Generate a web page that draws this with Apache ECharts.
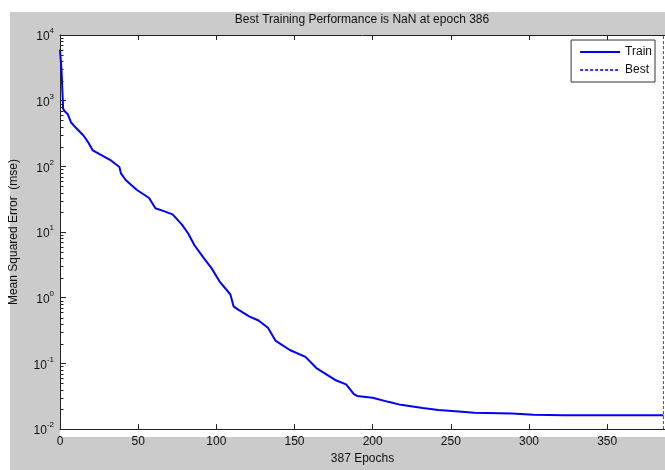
<!DOCTYPE html>
<html>
<head>
<meta charset="utf-8">
<script src="https://cdn.jsdelivr.net/npm/echarts@6/dist/echarts.min.js"></script>
<style>
html,body{margin:0;padding:0;background:#fff;}
#chart{width:665px;height:470px;}
</style>
</head>
<body>
<div id="chart"></div>
<script>
// ---- data ----
var epochs = [0, 1, 2, 3, 5, 7, 10, 15, 18, 21, 25, 32, 38, 39, 42, 49, 57, 61, 66, 72, 78, 82, 86, 92, 97, 102, 109, 111, 114, 121, 127, 133, 138, 147, 157, 164, 176, 183, 188, 190, 200, 210, 218, 232, 242, 253, 265, 289, 303, 322, 386];
var trainMse = [6000, 2800, 750, 690, 620, 470, 390, 295, 233, 175, 155, 126, 98, 78, 62, 44, 33, 23, 21, 18.6, 13, 9.5, 6.3, 4.0, 2.8, 1.78, 1.12, 0.74, 0.66, 0.52, 0.45, 0.35, 0.22, 0.16, 0.126, 0.085, 0.056, 0.048, 0.034, 0.032, 0.030, 0.026, 0.0234, 0.0209, 0.0195, 0.0187, 0.0177, 0.0173, 0.0165, 0.0162, 0.0162];
var bestEpoch = 386;
var yLimits = [0.01, 10000];
var titleText = 'Best Training Performance is NaN at epoch 386';
var xName = '387 Epochs';
var yName = 'Mean Squared Error  (mse)';
var seriesNames = ['Train', 'Best'];

// minor log ticks (axis decoration)
var minorTicks = [];
for (var k = -2; k < 4; k++) {
  for (var m = 2; m <= 9; m++) minorTicks.push([0, m * Math.pow(10, k)]);
}

var trainData = epochs.map(function (e, i) { return [e, trainMse[i]]; });
var bestData = [[bestEpoch, yLimits[0]], [bestEpoch, yLimits[1]]];

var FONT = '"Liberation Sans", Arial, sans-serif';
var chart = echarts.init(document.getElementById('chart'), null, {renderer: 'canvas'});

var GL = 60, GT = 35, GB = 33;

var option = {
  animation: false,
  backgroundColor: '#ffffff',
  textStyle: {fontFamily: FONT},
  graphic: [
    {type: 'rect', z: -100, silent: true, shape: {x: 10, y: 12, width: 660, height: 460}, style: {fill: '#cbcbcb'}},
    {type: 'rect', z: -90, silent: true, shape: {x: GL, y: GT, width: 665 - GL + 5, height: 470 - GT - GB}, style: {fill: '#ffffff'}},
    {type: 'text', z: 10, silent: true, style: {text: titleText, x: 362, y: 20, align: 'center', verticalAlign: 'middle', font: '12px ' + FONT, fill: '#111'}}
  ],
  grid: {left: GL, right: 0, top: GT, bottom: GB, show: false},
  legend: {
    data: seriesNames, orient: 'vertical', right: 10, top: 40,
    backgroundColor: '#ffffff', borderColor: '#333', borderWidth: 1, borderRadius: 0,
    padding: [6, 3, 6, 8], itemWidth: 40, itemHeight: 12, itemGap: 6,
    itemStyle: {opacity: 0},
    textStyle: {fontSize: 12, color: '#111', fontFamily: FONT}
  },
  xAxis: [{
    type: 'value', min: 0, max: 387, interval: 50,
    name: xName, nameLocation: 'middle', nameGap: 21,
    nameTextStyle: {fontSize: 12, color: '#111', fontFamily: FONT},
    axisLine: {show: true, onZero: false, lineStyle: {color: '#222', width: 1}},
    axisTick: {show: true, inside: true, length: 5, lineStyle: {color: '#222', width: 1}},
    axisLabel: {show: true, margin: 7, fontSize: 12, color: '#111', showMaxLabel: false, fontFamily: FONT},
    splitLine: {show: false}
  }, {
    type: 'value', min: 0, max: 387, interval: 50, position: 'top',
    axisLine: {show: true, onZero: false, lineStyle: {color: '#222', width: 1}},
    axisTick: {show: true, inside: true, length: 5, lineStyle: {color: '#222', width: 1}},
    axisLabel: {show: false},
    splitLine: {show: false}
  }],
  yAxis: {
    type: 'log', logBase: 10, min: yLimits[0], max: yLimits[1], interval: 1,
    name: yName, nameLocation: 'middle', nameGap: 40,
    nameTextStyle: {fontSize: 12, color: '#111', fontFamily: FONT},
    axisLine: {show: true, onZero: false, lineStyle: {color: '#222', width: 1}},
    axisTick: {show: true, inside: true, length: 6, lineStyle: {color: '#222', width: 1}},
    axisLabel: {
      margin: 6,
      formatter: function (v) { return '{b|10}{s|' + Math.round(Math.log10(v)) + '}'; },
      rich: {
        b: {fontSize: 12, color: '#111', fontFamily: FONT, verticalAlign: 'bottom'},
        s: {fontSize: 8, color: '#111', fontFamily: FONT, verticalAlign: 'bottom', padding: [0, 0, 8, 0]}
      }
    },
    splitLine: {show: false}
  },
  series: [
    {
      name: 'Train', type: 'line', data: trainData, symbol: 'none', showSymbol: false,
      lineStyle: {color: '#0000ff', width: 2}, itemStyle: {color: '#0000ff'}, z: 5
    },
    {
      name: 'Best', type: 'line', data: bestData, symbol: 'none', showSymbol: false,
      lineStyle: {color: '#3333ff', width: 1, type: [3, 2]}, itemStyle: {color: '#3333ff'}, z: 4
    },
    {
      name: 'minorTicks', type: 'custom', data: minorTicks, silent: true, z: 6, clip: false,
      renderItem: function (params, api) {
        var p = api.coord([api.value(0), api.value(1)]);
        var y = Math.round(p[1]) + 0.5;
        return {type: 'line', shape: {x1: p[0], y1: y, x2: p[0] + 3.5, y2: y}, style: {stroke: '#222', lineWidth: 1}};
      }
    }
  ]
};
chart.setOption(option);
</script>
</body>
</html>
